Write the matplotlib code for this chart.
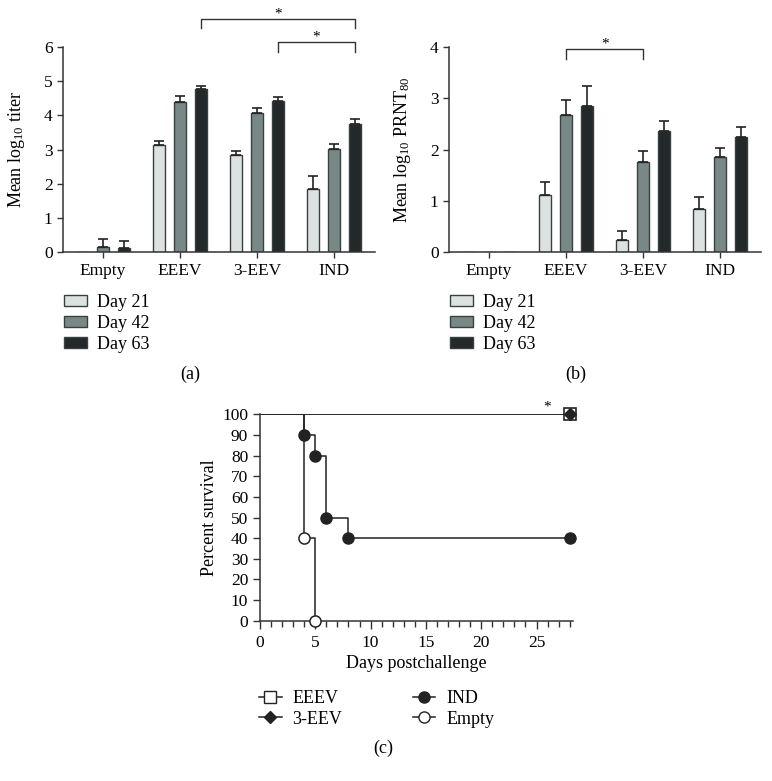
import numpy as np
import matplotlib
matplotlib.use("Agg")
import matplotlib.pyplot as plt
from matplotlib.patches import Patch
from matplotlib.lines import Line2D

plt.rcParams['font.family'] = ['Liberation Serif', 'DejaVu Serif']
plt.rcParams['mathtext.fontset'] = 'custom'
plt.rcParams['mathtext.rm'] = 'Liberation Serif'
plt.rcParams['mathtext.it'] = 'Liberation Serif:italic'
plt.rcParams['font.size'] = 12.5

# ---------------- data ----------------
groups = ["Empty", "EEEV", "3-EEV", "IND"]
days = ["Day 21", "Day 42", "Day 63"]

titer_day21 = [0.0, 3.12, 2.84, 1.84]
titer_day42 = [0.15, 4.39, 4.08, 3.01]
titer_day63 = [0.12, 4.77, 4.42, 3.75]
titer_err21 = [0.0, 0.13, 0.11, 0.37]
titer_err42 = [0.23, 0.19, 0.14, 0.14]
titer_err63 = [0.20, 0.09, 0.13, 0.13]

prnt_day21 = [0.0, 1.11, 0.24, 0.84]
prnt_day42 = [0.0, 2.67, 1.76, 1.86]
prnt_day63 = [0.0, 2.85, 2.36, 2.24]
prnt_err21 = [0.0, 0.26, 0.17, 0.24]
prnt_err42 = [0.0, 0.30, 0.21, 0.16]
prnt_err63 = [0.0, 0.38, 0.20, 0.19]

surv_series = ["EEEV", "3-EEV", "IND", "Empty"]
eeev_days = [0, 28]
eeev_surv = [100, 100]
eev3_days = [0, 28]
eev3_surv = [100, 100]
ind_days = [0, 4, 5, 6, 8, 28]
ind_surv = [100, 90, 80, 50, 40, 40]
empty_days = [0, 4, 5]
empty_surv = [100, 40, 0]

colors = ["#dce2e1", "#778887", "#23292a"]
edge = "#3a3f40"
W, H = 772, 781
FS = 12.5

fig = plt.figure(figsize=(W / 100, H / 100), dpi=100)

def fx(px):
    return px / W

def fy(py):
    return 1 - py / H

def style_axes(ax):
    for s in ["top", "right"]:
        ax.spines[s].set_visible(False)
    for s in ["left", "bottom"]:
        ax.spines[s].set_linewidth(1.1)
        ax.spines[s].set_color("#333333")
    ax.tick_params(direction="out", length=4, width=1.0, color="#333333", labelsize=FS)

def bar_panel(ax, vals, errs, ymax, ylabel):
    x = np.arange(len(groups))
    offs = [-0.27, 0.0, 0.27]
    w = 0.155
    for i in range(3):
        v = np.array(vals[i], dtype=float)
        e = np.array(errs[i], dtype=float)
        ax.bar(x + offs[i], v, width=w, color=colors[i], edgecolor=edge, linewidth=1.0,
               label=days[i], zorder=2)
        m = e > 0
        ax.errorbar((x + offs[i])[m], v[m], yerr=[np.zeros(m.sum()), e[m]], fmt="none",
                    ecolor="#222222", elinewidth=1.2, capsize=3.5, capthick=1.2, zorder=3)
    ax.set_xlim(-0.52, 3.53)
    ax.set_ylim(0, ymax)
    ax.set_yticks(np.arange(0, ymax + 1, 1))
    ax.set_xticks(x)
    ax.set_xticklabels(groups)
    ax.tick_params(axis="x", pad=4)
    ax.set_ylabel(ylabel, fontsize=13)
    style_axes(ax)

def bracket(ax, x1, x2, ytop, ybot, ystar):
    ax.plot([x1, x1, x2, x2], [ybot, ytop, ytop, ybot], color="#333333", lw=1.0, clip_on=False)
    ax.text((x1 + x2) / 2, ystar, "*", ha="center", va="center", fontsize=11, clip_on=False)

# ---------------- panel (a) ----------------
axa = fig.add_axes([fx(63), fy(252), fx(312), fy(47) - fy(252)])
bar_panel(axa, [titer_day21, titer_day42, titer_day63],
          [titer_err21, titer_err42, titer_err63], 6, "Mean log$_{10}$ titer")
axa.yaxis.set_label_coords(-0.115, 0.5)
bracket(axa, 1.27, 3.27, 6.82, 6.56, 6.97)
bracket(axa, 2.27, 3.27, 6.15, 5.85, 6.30)

# ---------------- panel (b) ----------------
axb = fig.add_axes([fx(449), fy(252), fx(312), fy(47) - fy(252)])
bar_panel(axb, [prnt_day21, prnt_day42, prnt_day63],
          [prnt_err21, prnt_err42, prnt_err63], 4, "Mean log$_{10}$ PRNT$_{80}$")
axb.yaxis.set_label_coords(-0.115, 0.5)
bracket(axb, 1.0, 2.0, 3.96, 3.77, 4.05)

# bar legends
handles = [Patch(facecolor=colors[i], edgecolor=edge, linewidth=1.0, label=days[i]) for i in range(3)]
for xp in (64, 450):
    fig.legend(handles=handles, loc="upper left", bbox_to_anchor=(fx(xp), fy(294)),
               frameon=False, fontsize=13, handlelength=1.25, handleheight=0.5,
               handletextpad=0.6, labelspacing=0.22, borderpad=0, borderaxespad=0)

fig.text(fx(190), fy(374), "(a)", ha="center", va="center", fontsize=13)
fig.text(fx(576), fy(374), "(b)", ha="center", va="center", fontsize=13)

# ---------------- panel (c) ----------------
axc = fig.add_axes([fx(260), fy(620.7), fx(313), fy(414.3) - fy(620.7)])
lc = "#222222"
axc.step(eeev_days, eeev_surv, where="post", color=lc, lw=1.1, zorder=2)
axc.step(eev3_days, eev3_surv, where="post", color=lc, lw=1.1, zorder=2)
axc.step(ind_days, ind_surv, where="post", color=lc, lw=1.1, zorder=2)
axc.step(empty_days, empty_surv, where="post", color=lc, lw=1.1, zorder=2)
axc.plot(eeev_days[1:], eeev_surv[1:], "s", ms=9, mfc="white", mec=lc, mew=1.2,
         ls="none", clip_on=False, zorder=3)
axc.plot(eev3_days[1:], eev3_surv[1:], "D", ms=6, mfc=lc, mec=lc, ls="none",
         clip_on=False, zorder=4)
axc.plot(ind_days[1:], ind_surv[1:], "o", ms=8, mfc=lc, mec=lc, ls="none",
         clip_on=False, zorder=4)
axc.plot(empty_days[1:], empty_surv[1:], "o", ms=8, mfc="white", mec=lc, mew=1.1,
         ls="none", clip_on=False, zorder=4)
axc.text(26, 103.5, "*", ha="center", va="center", fontsize=11)
axc.set_xlim(0, 28.3)
axc.set_ylim(0, 100)
axc.set_xticks(np.arange(0, 26, 5))
axc.set_xticks(np.arange(0, 29, 1), minor=True)
axc.set_yticks(np.arange(0, 101, 10))
style_axes(axc)
axc.tick_params(axis="x", which="major", length=6, pad=4)
axc.tick_params(axis="x", which="minor", length=4, width=1.0, color="#333333")
axc.tick_params(axis="y", length=5)
axc.set_xlabel("Days postchallenge", fontsize=13, labelpad=3)
axc.set_ylabel("Percent survival", fontsize=13, labelpad=3)

chand = [
    Line2D([], [], color=lc, lw=1.1, marker="s", ms=9, mfc="white", mec=lc, label="EEEV"),
    Line2D([], [], color=lc, lw=1.1, marker="D", ms=6, mfc=lc, mec=lc, label="3-EEV"),
    Line2D([], [], color=lc, lw=1.1, marker="o", ms=8, mfc=lc, mec=lc, label="IND"),
    Line2D([], [], color=lc, lw=1.1, marker="o", ms=8, mfc="white", mec=lc, label="Empty"),
]
fig.legend(handles=chand, loc="upper left", bbox_to_anchor=(fx(259), fy(690)), ncol=2,
           frameon=False, fontsize=13, handlelength=1.25, handletextpad=0.6,
           labelspacing=0.2, columnspacing=3.9, borderpad=0, borderaxespad=0)

fig.text(fx(383), fy(748), "(c)", ha="center", va="center", fontsize=13)

fig.savefig("out.png", dpi=100)
